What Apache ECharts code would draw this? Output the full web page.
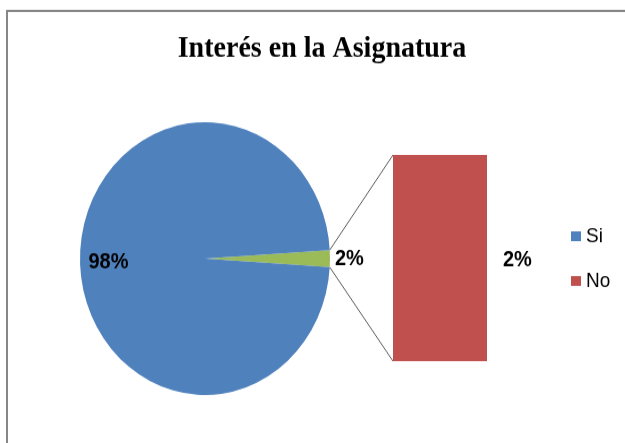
<!DOCTYPE html>
<html>
<head>
<meta charset="utf-8">
<script src="https://cdn.jsdelivr.net/npm/echarts@6/dist/echarts.min.js"></script>
<style>
  html, body { margin: 0; padding: 0; background: #fff; overflow: hidden; width: 625px; height: 443px; }
  #chart { width: 625px; height: 406px; transform: scaleY(1.0911); transform-origin: 0 0; }
</style>
</head>
<body>
<div id="chart"></div>
<script>
const titleText = "Interés en la Asignatura";
const categories = ["Si", "No"];
const percents = [98, 2];
const otherName = "Otro";

const colors = { Si: "#4F81BD", No: "#C0504D", Otro: "#9BBB59" };
const pieCenter = [205, 237];
const pieRadius = 125;
const barBox = { left: 393, top: 142, width: 94, height: 189 };
const titleCenterX = 322;
const titleFont = "bold 28px 'Liberation Serif'";

// the second plot gets every category after the first
const mainName = categories[0];
const mainValue = percents[0];
const splitNames = categories.slice(1);
const splitValues = percents.slice(1);
const otherValue = splitValues.reduce((a, b) => a + b, 0);
const otherAngle = (otherValue / (mainValue + otherValue)) * 360;

const labelFont = { fontFamily: "Liberation Sans", fontWeight: "bold", fontSize: 20, color: "#000" };

const ctx = document.createElement("canvas").getContext("2d");
ctx.font = titleFont;
const titleWidth = ctx.measureText(titleText).width;

const chart = echarts.init(document.getElementById("chart"), null, { renderer: "canvas" });

chart.setOption({
  animation: false,
  title: {
    text: titleText,
    left: titleCenterX - titleWidth / 2,
    top: 31,
    padding: 0,
    textStyle: { fontFamily: "Liberation Serif", fontWeight: "bold", fontSize: 28, color: "#000" },
  },
  legend: {
    data: [mainName, ...splitNames],
    orient: "vertical",
    left: 571,
    top: 207,
    padding: 0,
    icon: "rect",
    itemWidth: 10,
    itemHeight: 9,
    itemGap: 22,
    textStyle: { fontFamily: "Liberation Sans", fontSize: 19, color: "#000" },
  },
  grid: { left: barBox.left, top: barBox.top, width: barBox.width, height: barBox.height },
  xAxis: { type: "category", data: splitNames, show: false },
  yAxis: { type: "value", min: 0, max: otherValue, show: false },
  series: [
    {
      type: "pie",
      center: pieCenter,
      radius: pieRadius,
      startAngle: otherAngle / 2,
      clockwise: true,
      emphasis: { disabled: true },
      data: [
        {
          name: otherName,
          value: otherValue,
          itemStyle: { color: colors.Otro },
          label: { position: "outside", ...labelFont },
          labelLine: { show: false, length: 0, length2: 0 },
        },
        {
          name: mainName,
          value: mainValue,
          itemStyle: { color: colors.Si },
          label: { position: "inside", offset: [-31, 3], ...labelFont },
        },
      ],
      label: { show: true, formatter: (p) => Math.round(p.percent) + "%" },
    },
    ...splitNames.map((name, i) => ({
      name,
      type: "bar",
      stack: "other",
      barWidth: "100%",
      data: [splitValues[i]],
      itemStyle: { color: colors[name] },
      emphasis: { disabled: true },
      label: { show: true, position: "right", distance: 16, offset: [0, 2], formatter: (p) => p.value + "%", ...labelFont },
    })),
  ],
});

// connector lines from the small slice to the bar
const half = ((otherAngle / 2) * Math.PI) / 180;
const edgeX = pieCenter[0] + pieRadius * Math.cos(half);
const edgeTop = pieCenter[1] - pieRadius * Math.sin(half);
const edgeBottom = pieCenter[1] + pieRadius * Math.sin(half);
const barTop = chart.convertToPixel({ gridIndex: 0 }, [0, otherValue]);
const barBottom = chart.convertToPixel({ gridIndex: 0 }, [0, 0]);
const barLeft = barTop[0] - barBox.width / 2;

chart.setOption({
  graphic: [
    {
      id: "frame",
      type: "rect",
      silent: true,
      shape: { x: 7, y: 10, width: 700, height: 500 },
      style: { fill: "none", stroke: "#878787", lineWidth: 2 },
    },
    {
      id: "lineTop",
      type: "line",
      silent: true,
      shape: { x1: edgeX, y1: edgeTop, x2: barLeft, y2: barTop[1] },
      style: { stroke: "#595959", lineWidth: 1 },
    },
    {
      id: "lineBottom",
      type: "line",
      silent: true,
      shape: { x1: edgeX, y1: edgeBottom, x2: barLeft, y2: barBottom[1] },
      style: { stroke: "#595959", lineWidth: 1 },
    },
  ],
});
</script>
</body>
</html>
